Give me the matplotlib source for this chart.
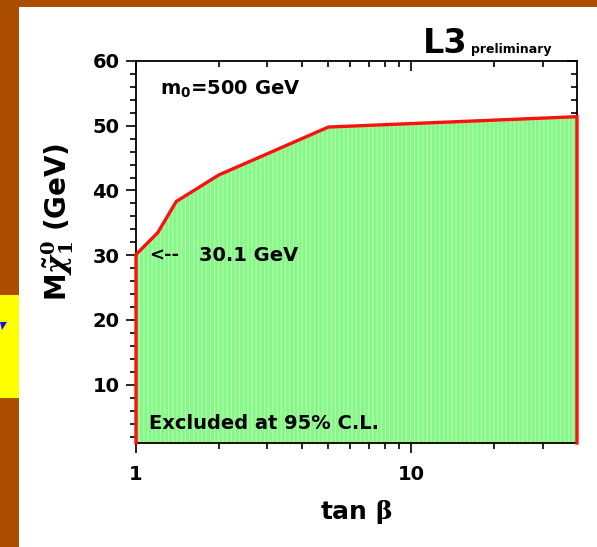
import matplotlib
matplotlib.use("Agg")
import matplotlib.pyplot as plt
from matplotlib.patches import Rectangle, Polygon
from matplotlib.ticker import FixedLocator, MultipleLocator, NullFormatter
import numpy as np

# Exclusion boundary in the (tan beta, neutralino mass) plane
tan_beta = [1.0, 1.2, 1.4, 2.0, 5.0, 40.0]
m_chi = [30.1, 33.5, 38.3, 42.4, 49.8, 51.4]
y_ticks = [10, 20, 30, 40, 50, 60]
x_ticks = [1, 10]
x_tick_labels = ["1", "10"]

plt.rcParams['font.family'] = ['DejaVu Sans']
plt.rcParams['font.weight'] = 'bold'
plt.rcParams['mathtext.fontset'] = 'dejavuserif'
plt.rcParams['hatch.linewidth'] = 0.8

W, H = 597, 547
fig = plt.figure(figsize=(W / 100, H / 100), dpi=100)
fig.patch.set_facecolor('#AC4E02')

# white slide panel and yellow side tab
fig.patches.append(Rectangle((19 / W, 0), 1 - 19 / W, 1 - 7 / H,
                             transform=fig.transFigure, facecolor='white',
                             edgecolor='none', zorder=-3))
fig.patches.append(Rectangle((0, 1 - 398 / H), 19 / W, (398 - 295) / H,
                             transform=fig.transFigure, facecolor='#FFFF00',
                             edgecolor='none', zorder=-2))
fig.patches.append(Polygon([(0, 1 - 322 / H), (7 / W, 1 - 322 / H), (2 / W, 1 - 330 / H)],
                           closed=True, transform=fig.transFigure,
                           facecolor='#1010F0', edgecolor='none', zorder=-1))

ax = fig.add_axes([136 / W, 1 - 443 / H, (577 - 136) / W, (443 - 61) / H])
ax.set_facecolor('white')
ax.set_xscale('log')
ax.set_xlim(1, 40)
ax.set_ylim(1, 60)

# excluded region
x = np.array(tan_beta)
y = np.array(m_chi)
ax.fill_between(x, 1, y, facecolor='#86F886', edgecolor='#B4FCB4',
                hatch='||||', linewidth=0, zorder=1)
bx = np.concatenate([[x[0]], x, [x[-1]]])
by = np.concatenate([[1], y, [1]])
ax.plot(bx, by, color='#FF1010', lw=2.4, clip_on=False, zorder=3,
        solid_joinstyle='miter')

for s in ax.spines.values():
    s.set_linewidth(1.3)
    s.set_zorder(2.5)

ax.xaxis.set_major_locator(FixedLocator(x_ticks))
ax.set_xticklabels(x_tick_labels)
ax.xaxis.set_minor_locator(FixedLocator([2, 3, 4, 5, 6, 7, 8, 9, 20, 30]))
ax.xaxis.set_minor_formatter(NullFormatter())
ax.yaxis.set_major_locator(FixedLocator(y_ticks))
ax.yaxis.set_minor_locator(MultipleLocator(2))

ax.tick_params(axis='both', which='both', direction='out', width=1.2,
               labelsize=14, top=False, right=False)
ax.tick_params(axis='both', which='major', length=7)
ax.tick_params(axis='both', which='minor', length=4)
ax.tick_params(axis='x', which='major', pad=9)
ax.tick_params(axis='y', which='major', pad=5)

# inward ticks on the top and right edges
top = ax.secondary_xaxis('top')
top.xaxis.set_major_locator(FixedLocator(x_ticks))
top.xaxis.set_minor_locator(FixedLocator([2, 3, 4, 5, 6, 7, 8, 9, 20, 30]))
top.tick_params(which='both', direction='in', labeltop=False, width=1.2)
top.tick_params(which='major', length=7)
top.tick_params(which='minor', length=4)
top.spines['top'].set_visible(False)
right = ax.secondary_yaxis('right')
right.yaxis.set_major_locator(FixedLocator(y_ticks))
right.yaxis.set_minor_locator(MultipleLocator(2))
right.tick_params(which='both', direction='in', labelright=False, width=1.2)
right.tick_params(which='major', length=7)
right.tick_params(which='minor', length=4)
right.spines['right'].set_visible(False)

for lab in ax.get_xticklabels() + ax.get_yticklabels():
    lab.set_fontweight('bold')

ax.set_xlabel(r'tan $\mathrm{\beta}$', fontsize=18, fontweight='bold', labelpad=10)
ax.set_ylabel(r'M$\tilde{\chi}_1^0$ (GeV)', fontsize=20, fontweight='bold')
ax.yaxis.set_label_coords(-0.137, 0.58)

ax.text(0.055, 0.929, r'm$_\mathsf{0}$=500 GeV', transform=ax.transAxes,
        fontsize=14, fontweight='bold', va='center')
ax.text(1.12, 30.0, '<--', fontsize=13, fontweight='bold', va='center')
ax.text(1.70, 30.0, '30.1 GeV', fontsize=14, fontweight='bold', va='center')
ax.text(0.03, 0.05, 'Excluded at 95% C.L.', transform=ax.transAxes,
        fontsize=14, fontweight='bold', va='center', zorder=4)

fig.text(423 / W, 1 - 53 / H, 'L3', fontsize=24, fontweight='bold', va='baseline')
fig.text(471 / W, 1 - 53 / H, 'preliminary', fontsize=9, fontweight='bold', va='baseline')

fig.savefig('out.png', dpi=100, facecolor=fig.get_facecolor())
